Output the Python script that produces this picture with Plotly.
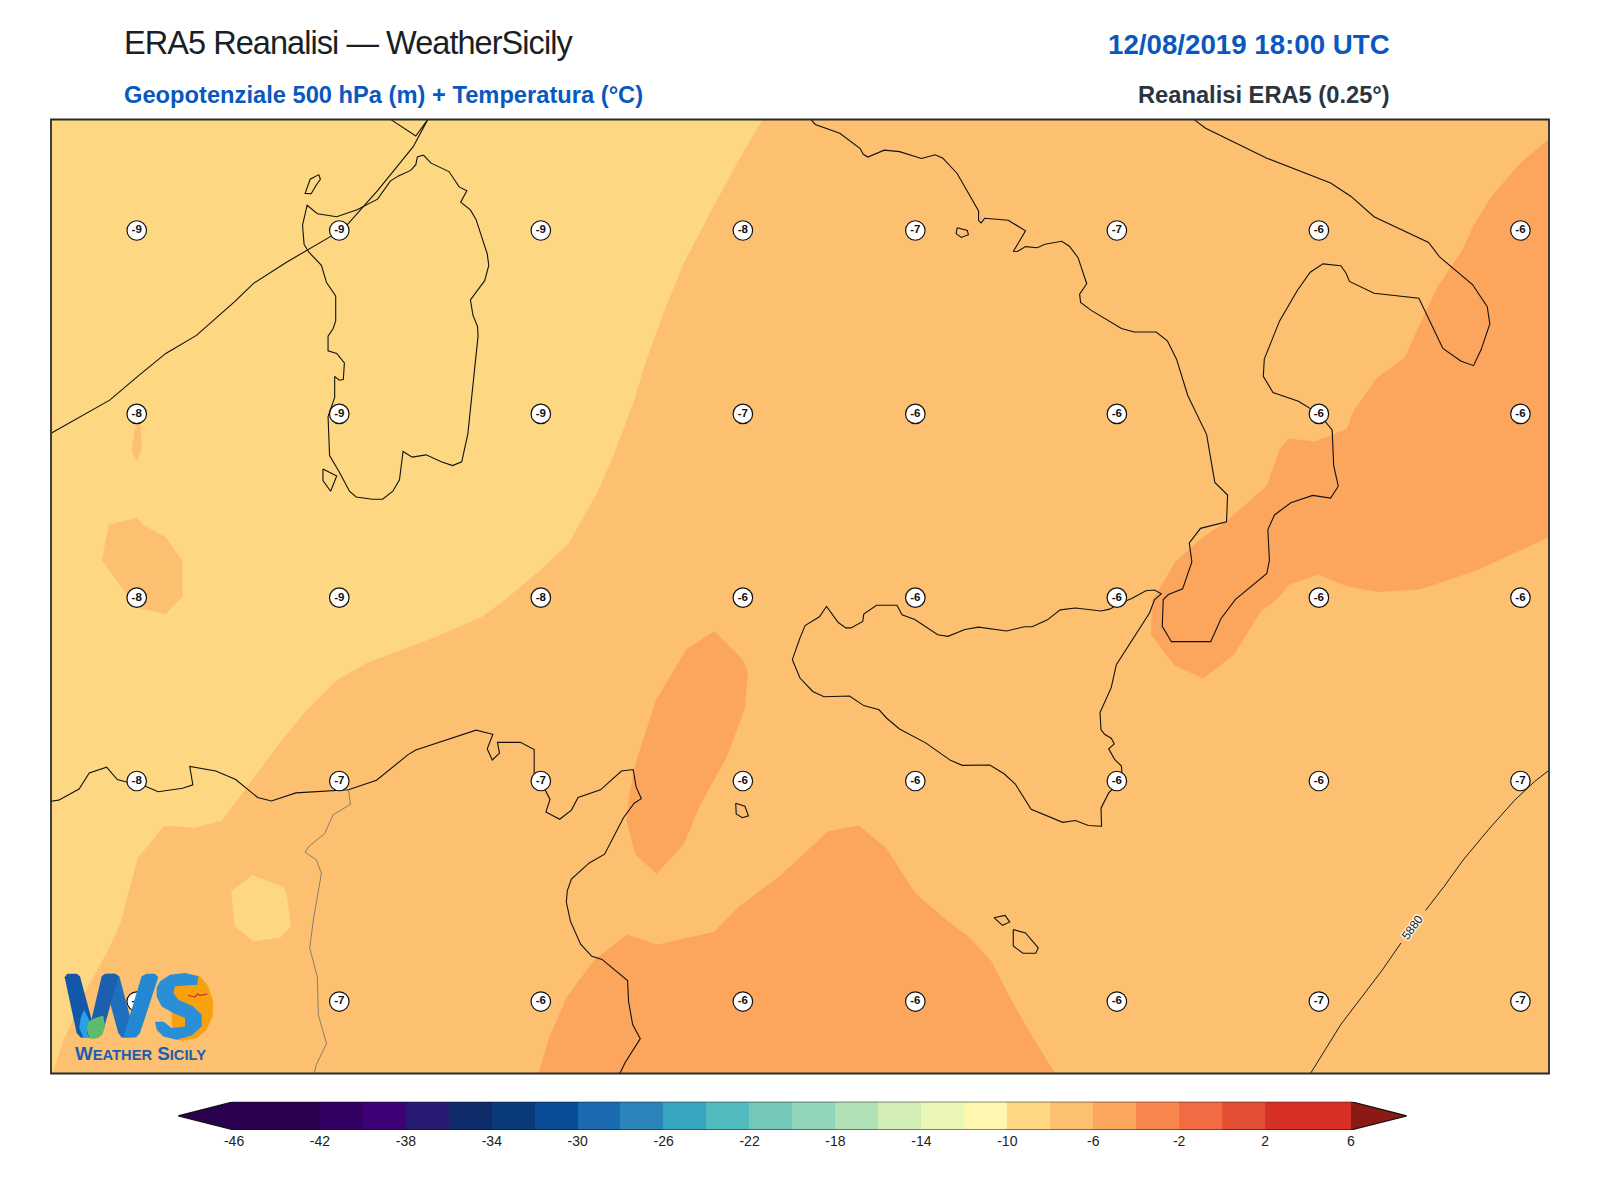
import plotly.graph_objects as go

Q = 1568  # map units per quadrant of the traced chart

def shift(points, dx=0, dy=0):
    return [(x + dx, y + dy) for x, y in points]

# ---- temperature label grid ----
label_x = [268, 665, 1060, 1456, 1794, 2189, 2585, 2980]
label_y = [604, 1083, 1563, 2042, 2618]
label_rows = [
    [-9, -9, -9, -8, -7, -7, -6, -6],
    [-8, -9, -9, -7, -6, -6, -6, -6],
    [-8, -9, -8, -6, -6, -6, -6, -6],
    [-8, -7, -7, -6, -6, -6, -6, -7],
    [-7, -7, -6, -6, -6, -6, -7, -7],
]

# ---- coast lines ----
france_coast = [(101,1133),(215,1047),(270,985),(325,925),(385,878),(460,790),(497,742),(560,688),(650,618),(680,590),(740,500),(810,385),(838,315)]
corsica_tip = [(767,315),(815,357),(838,315)]
sardinia = [(830,407),(818,412),(815,432),(805,447),(780,462),(765,475),(740,522),(700,550),(660,568),(622,560),(602,538),(593,590),(596,640),(605,660),(630,695),(640,740),(658,775),(658,840),(653,860),(643,880),(643,918),(660,925),(675,950),(673,993),(665,995),(656,985),(656,1040),(643,1090),(646,1192),(665,1235),(685,1285),(698,1300),(730,1306),(750,1306),(770,1285),(783,1255),(790,1181),(808,1196),(835,1190),(865,1208),(887,1218),(905,1208),(917,1135),(937,880),(936,855),(927,825),(922,785),(950,735),(958,695),(955,665),(933,575),(922,550),(903,530),(915,500),(900,490),(880,450),(845,428),(830,407)]
asinara = [(625,458),(628,470),(620,485),(610,508),(598,507),(608,470),(625,458)]
antioco = [(633,1227),(660,1245),(648,1285),(633,1257),(633,1227)]
ustica = shift([(1442,532),(1460,540),(1467,565),(1455,570),(1443,560),(1442,532)], 0, Q)
ischia = shift([(308,597),(328,604),(330,615),(316,622),(306,612),(308,597)], Q, 0)
gozo = shift([(380,831),(402,825),(411,842),(397,851),(380,831)], Q, Q)
malta = shift([(418,862),(442,871),(467,910),(462,924),(437,924),(418,905),(418,862)], Q, Q)
italy_west = [(22,315),(30,327),(78,350),(118,390),(124,405),(133,412),(165,394),(195,398),(238,416),(265,406),(280,415),(308,455),(350,553),(350,578),(355,584),(362,572),(408,577),(442,605),(418,659),(427,658),(442,646),(465,649),(480,640),(513,632),(528,645),(545,675),(562,743),(548,770),(550,792),(570,812),(630,860),(655,869),(698,869),(720,892),(738,940),(760,1035),(797,1137),(813,1262),(838,1295),(836,1365),(785,1382),(763,1420),(768,1470),(750,1540),(722,1555),(712,1568)]
italy_toe = [(710,70),(728,110),(805,110),(825,50),(853,0)]
italy_east = [(915,1500),(920,1465),(917,1385),(930,1347),(962,1315),(1005,1296),(1040,1303),(1055,1272),(1046,1218),(1043,1125),(1030,1105),(1017,1083),(977,1050),(927,1027),(908,985),(910,940),(940,840),(975,760),(1000,713),(1025,691),(1060,696),(1070,715),(1077,737),(1125,768),(1213,781),(1260,912),(1295,945),(1320,957),(1335,915),(1352,848),(1347,803),(1318,745),(1253,672),(1232,635),(1125,568),(1080,515),(1040,480),(915,415),(795,337),(773,315)]
italy = shift(italy_west, Q, 0) + shift(italy_toe, Q, Q) + shift(italy_east, Q, 0)
sicily_pts = [(0,100),(10,68),(38,45),(52,18),(75,60),(90,74),(100,74),(123,57),(125,38),(150,15),(190,15),(200,40),(225,52),(270,92),(290,96),(323,78),(350,72),(405,82),(440,71),(455,71),(485,53),(510,27),(540,22),(590,30),(607,25),(630,8),(650,-3),(678,-23),(695,-25),(708,-15),(695,0),(685,35),(620,170),(610,230),(588,295),(590,340),(597,352),(610,362),(616,377),(605,390),(617,418),(630,435),(632,470),(605,505),(590,545),(591,592),(565,590),(540,577),(515,582),(480,562),(453,548),(422,482),(400,455),(372,432),(318,433),(295,420),(247,375),(195,338),(170,310),(155,288),(125,277),(97,252),(47,254),(25,240),(0,205),(-15,157),(0,100)]
sicily = shift(sicily_pts, Q, Q)
africa = shift([(100,527),(115,524),(155,495),(175,453),(209,438),(230,470),(250,477),(268,478),(310,502),(358,493),(378,484),(372,436),(423,448),(462,470),(505,517),(532,526),(580,505),(683,497),(738,472),(800,405),(815,393),(933,341),(966,352),(955,390),(965,419),(979,401),(975,373),(1020,373),(1047,392),(1047,455),(1060,475),(1078,522),(1070,555),(1097,574),(1120,550),(1133,517),(1177,497),(1218,448),(1241,444),(1247,490),(1257,520),(1243,532),(1222,570),(1185,665),(1155,688),(1120,730),(1112,760),(1110,790),(1118,840),(1138,900),(1160,932),(1180,940),(1230,995),(1232,1050),(1240,1110),(1255,1147),(1225,1210),(1215,1238)], 0, Q)
border = shift([(683,497),(687,535),(653,562),(636,612),(605,645),(598,660),(620,680),(630,715),(615,830),(607,910),(622,985),(624,1085),(640,1160),(620,1215),(616,1238)], 0, Q)

# ---- 5880 m geopotential contour ----
z5880_a = shift([(1001,1237),(1030,1175),(1060,1110),(1100,1040),(1140,970),(1178,897)], Q, Q)
z5880_b = shift([(1226,812),(1262,750),(1300,680),(1350,600),(1400,525),(1440,475),(1467,447)], Q, Q)
z5880_label = "5880"

# ---- temperature bands ----
band_light_main = [(1495,314),(1450,415),(1395,550),(1340,690),(1300,820),(1265,950),(1240,1060),(1200,1200),(1170,1290),(1115,1420),(1060,1490),(990,1568),(945,1613),(850,1668),(720,1733),(660,1778),(600,1858),(545,1948),(435,2146),(380,2164),(322,2159),(270,2243),(235,2418),(210,2488),(165,2598),(125,2718),(103,2806),(100,2806),(100,314)]
band_mid_isle_a = [(267,1105),(258,1180),(268,1207),(278,1175),(275,1105)]
band_mid_isle_b = [(213,1372),(268,1355),(280,1372),(325,1405),(357,1465),(358,1560),(325,1606),(270,1590),(235,1530),(200,1465)]
band_light_isle = shift([(495,720),(555,750),(562,770),(570,853),(550,883),(497,893),(460,853),(453,762),(495,720)], 0, Q)
band_dark_east = shift([(1468,365),(1410,430),(1355,515),(1320,590),(1298,655),(1250,750),(1218,840),(1185,935),(1130,990),(1085,1075),(1072,1122),(1010,1155),(958,1147),(940,1175),(915,1270),(835,1365),(785,1410),(735,1470),(700,1550),(690,1568)], Q, 0) \
    + shift([(688,92),(733,170),(790,207),(850,145),(905,27),(935,0)], Q, Q) \
    + shift([(958,1530),(1015,1503),(1075,1535),(1135,1548),(1215,1542),(1330,1490),(1468,1405)], Q, 0)
band_dark_center = shift([(1400,83),(1455,155),(1466,190),(1460,285),(1425,410),(1375,530),(1340,640),(1287,716),(1245,665),(1228,580),(1232,520),(1245,430),(1285,265),(1345,130),(1400,83)], 0, Q)
band_dark_south = shift([(1055,1238),(1075,1150),(1110,1040),(1165,940),(1230,875),(1287,902),(1400,868),(1450,800),(1530,720)], 0, Q) \
    + shift([(0,672),(55,605),(115,590),(170,650),(225,765),(285,835),(330,880),(375,945),(420,1060),(455,1140),(500,1238)], Q, Q)

# ---- colour scale ----
cb_low = [-46, -42, -40, -38, -36, -34, -32, -30, -28, -26, -24, -22, -20, -18, -16, -14, -12, -10, -8, -6, -4, -2, 0, 2]
cb_high = [-42, -40, -38, -36, -34, -32, -30, -28, -26, -24, -22, -20, -18, -16, -14, -12, -10, -8, -6, -4, -2, 0, 2, 6]
cb_colors = ["#2a004f", "#310062", "#3f0077", "#271a73", "#0f2c6a", "#0a3a7a", "#084d96", "#1c6bb0", "#2c85ba", "#37a4c0", "#52bbbf", "#73c8b9", "#90d4b9", "#b1e1b6", "#d2eeb5", "#eaf7b7", "#fff7b0", "#fdd782", "#fdc071", "#fca65d", "#f8874f", "#f36b43", "#e34f33", "#d73027"]
cb_ticks = [-46, -42, -38, -34, -30, -26, -22, -18, -14, -10, -6, -2, 2, 6]
under_tip = [(-46, -0.5), (-48.6, 0), (-46, 0.5)]
over_tip = [(6, -0.5), (8.6, 0), (6, 0.5)]
cb_outline = [(-46, 0.5), (6, 0.5), (8.6, 0), (6, -0.5), (-46, -0.5), (-48.6, 0), (-46, 0.5)]

# ---- logo artwork (traced in its own small grid) ----
def logo_grid(points):
    return [(117.6 + 0.6533 * x, 2521.8 + 0.871 * y) for x, y in points]

logo_sun = logo_grid([(385,28),(420,35),(445,65),(460,110),(458,155),(440,195),(410,220),(370,228),(340,222),(335,160),(335,60),(355,35)])
logo_w1 = logo_grid([(14,38),(22,27),(50,27),(60,35),(95,165),(82,218),(62,218),(50,205)])
logo_w2 = logo_grid([(82,218),(125,35),(135,27),(165,27),(175,35),(128,205),(115,218)])
logo_w3 = logo_grid([(130,40),(140,27),(165,27),(178,35),(222,200),(212,218),(185,218),(175,205)])
logo_w4 = logo_grid([(190,218),(245,35),(260,27),(285,27),(295,38),(240,205),(228,218)])
logo_s = logo_grid([(300,50),(330,30),(375,25),(415,35),(412,60),(375,62),(345,65),(340,85),(355,105),(400,125),(425,150),(425,185),(395,212),(350,225),(310,215),(290,195),(285,172),(310,170),(335,190),(375,185),(375,160),(340,145),(305,125),(290,95),(290,70)])
logo_drop = logo_grid([(72,135),(88,165),(80,190),(85,218),(70,218),(58,190),(62,160)])
logo_leaf = logo_grid([(80,190),(85,170),(105,160),(130,152),(135,185),(125,212),(105,222),(88,222)])
logo_bird = logo_grid([(385,92),(405,97),(412,88),(420,92),(442,88)])
logo_name = "W<span style='font-size:14.7px'>EATHER</span> S<span style='font-size:14.7px'>ICILY</span>"

LIGHT, MID, DARK = "#fdd782", "#fdc071", "#fca65d"
FONT = "Liberation Sans"

fig = go.Figure()

def xs(p): return [a for a, _ in p]
def ys(p): return [b for _, b in p]

def fill(points, color, **kw):
    fig.add_trace(go.Scatter(x=xs(points), y=ys(points), mode="lines", fill="toself",
                             fillcolor=color, line=dict(width=0, color=color), hoverinfo="skip", **kw))

def line(points, color="#111111", width=1.1, **kw):
    fig.add_trace(go.Scatter(x=xs(points), y=ys(points), mode="lines",
                             line=dict(color=color, width=width), hoverinfo="skip", **kw))

# bands
fill([(100, 314), (3036, 314), (3036, 2806), (100, 2806)], MID)
fill(band_light_main, LIGHT)
fill(band_mid_isle_a, MID)
fill(band_mid_isle_b, MID)
fill(band_light_isle, LIGHT)
fill(band_dark_east + [(3036, 1405), (3036, 365)], DARK)
fill(band_dark_center, DARK)
fill(band_dark_south, DARK)

# coasts
for c in (france_coast, corsica_tip, sardinia, asinara, antioco, ustica, ischia, gozo, malta, italy, sicily, africa):
    line(c)
line(border, color="#6b6b6b", width=0.8)
line(z5880_a, color="#1c1c1c", width=1.0)
line(z5880_b, color="#1c1c1c", width=1.0)

# temperature labels
FONT_LABEL = dict(family=FONT, size=11.5, color="#111111")
lx, ly, lt = [], [], []
for row, yy in zip(label_rows, label_y):
    for val, xx in zip(row, label_x):
        lx.append(xx); ly.append(yy); lt.append(f"<b>{val}</b>")
fig.add_trace(go.Scatter(x=lx, y=ly, mode="markers+text", text=lt, textposition="middle center",
                         marker=dict(size=19.5, color="white", line=dict(color="#111111", width=1.2)),
                         textfont=FONT_LABEL, hoverinfo="skip"))

# logo
fill(logo_sun, "#f8a10e")
fill(logo_w1, "#1257a8")
fill(logo_w3, "#1e6fbd")
fill(logo_w2, "#1b5fae")
fill(logo_w4, "#2387d2")
fill(logo_drop, "#2aa0e8")
fill(logo_leaf, "#5dbb6a")
fill(logo_s, "#2a8fd6")
line(logo_bird, color="#c8332e", width=1.2)

# colour bar
fig.add_trace(go.Bar(y=[0] * len(cb_low), x=[h - l for l, h in zip(cb_low, cb_high)], base=cb_low,
                     orientation="h", width=1, marker=dict(color=cb_colors, line=dict(width=0)),
                     xaxis="x2", yaxis="y2", hoverinfo="skip"))
fill(under_tip, "#2a004f", xaxis="x2", yaxis="y2")
fill(over_tip, "#8b1a14", xaxis="x2", yaxis="y2")
line(cb_outline, color="#111111", width=1.2, xaxis="x2", yaxis="y2", cliponaxis=False)

# The page body keeps an 8 px margin, so positions below are written as page pixels minus that margin.
M = 8
W, H = 1592, 1192
def px(x): return (x - M) / W
def py(y): return 1 - (y - M) / H

def note(text, x, y, size, color, anchor="left", bold=False):
    fig.add_annotation(text=f"<b>{text}</b>" if bold else text, xref="paper", yref="paper",
                       x=px(x), y=py(y), xanchor=anchor, yanchor="middle", showarrow=False,
                       font=dict(family=FONT, size=size, color=color))

note("<span style='letter-spacing:-0.95px'>ERA5 Reanalisi — WeatherSicily</span>", 121.5, 43, 32.5, "#1a1f26")
note("12/08/2019 18:00 UTC", 1392, 44, 27.7, "#0a58bf", anchor="right", bold=True)
note("Geopotenziale 500 hPa (m) + Temperatura (°C)", 121.5, 94.5, 23.7, "#0a58bf", bold=True)
note("Reanalisi ERA5 (0.25°)", 1392, 94.5, 23.7, "#2b3440", anchor="right", bold=True)

halo = "1px 1px 1px white, -1px -1px 1px white, 1px -1px 1px white, -1px 1px 1px white, 0 0 2px white"
fig.add_annotation(text=z5880_label, x=2769, y=2424, xref="x", yref="y", showarrow=False, textangle=-54,
                   font=dict(family=FONT, size=12, color="#222222", shadow=halo))
fig.add_annotation(text=f"<b>{logo_name}</b>", x=275, y=2754, xref="x", yref="y", showarrow=False,
                   font=dict(family=FONT, size=18.8, color="#1a5fb0"))

# map frame
fig.add_shape(type="rect", xref="paper", yref="paper", x0=px(51), x1=px(1549), y0=py(1073.5), y1=py(119.5),
              layer="above", line=dict(color="#2b2b2b", width=1.8), fillcolor="rgba(0,0,0,0)")

fig.update_layout(
    width=W, height=H, margin=dict(l=0, r=0, t=0, b=0, pad=0),
    paper_bgcolor="white", plot_bgcolor="white", showlegend=False, bargap=0,
    xaxis=dict(domain=[px(51), px(1549)], range=[100, 3036], showgrid=False, zeroline=False,
               showticklabels=False, ticks="", showline=False),
    yaxis=dict(domain=[py(1073.5), py(119.5)], range=[2806, 314], showgrid=False, zeroline=False,
               showticklabels=False, ticks="", showline=False),
    xaxis2=dict(domain=[px(178.2), px(1406.8)], range=[-48.6, 8.6], anchor="y2", showgrid=False, zeroline=False,
                tickmode="array", tickvals=cb_ticks, ticktext=[str(t) for t in cb_ticks], ticks="",
                ticklabelstandoff=1, tickfont=dict(family=FONT, size=14, color="#222222")),
    yaxis2=dict(domain=[py(1130), py(1101.7)], range=[-0.5, 0.5], anchor="x2", showgrid=False,
                zeroline=False, showticklabels=False, ticks=""),
)

fig.write_html("out.html")
